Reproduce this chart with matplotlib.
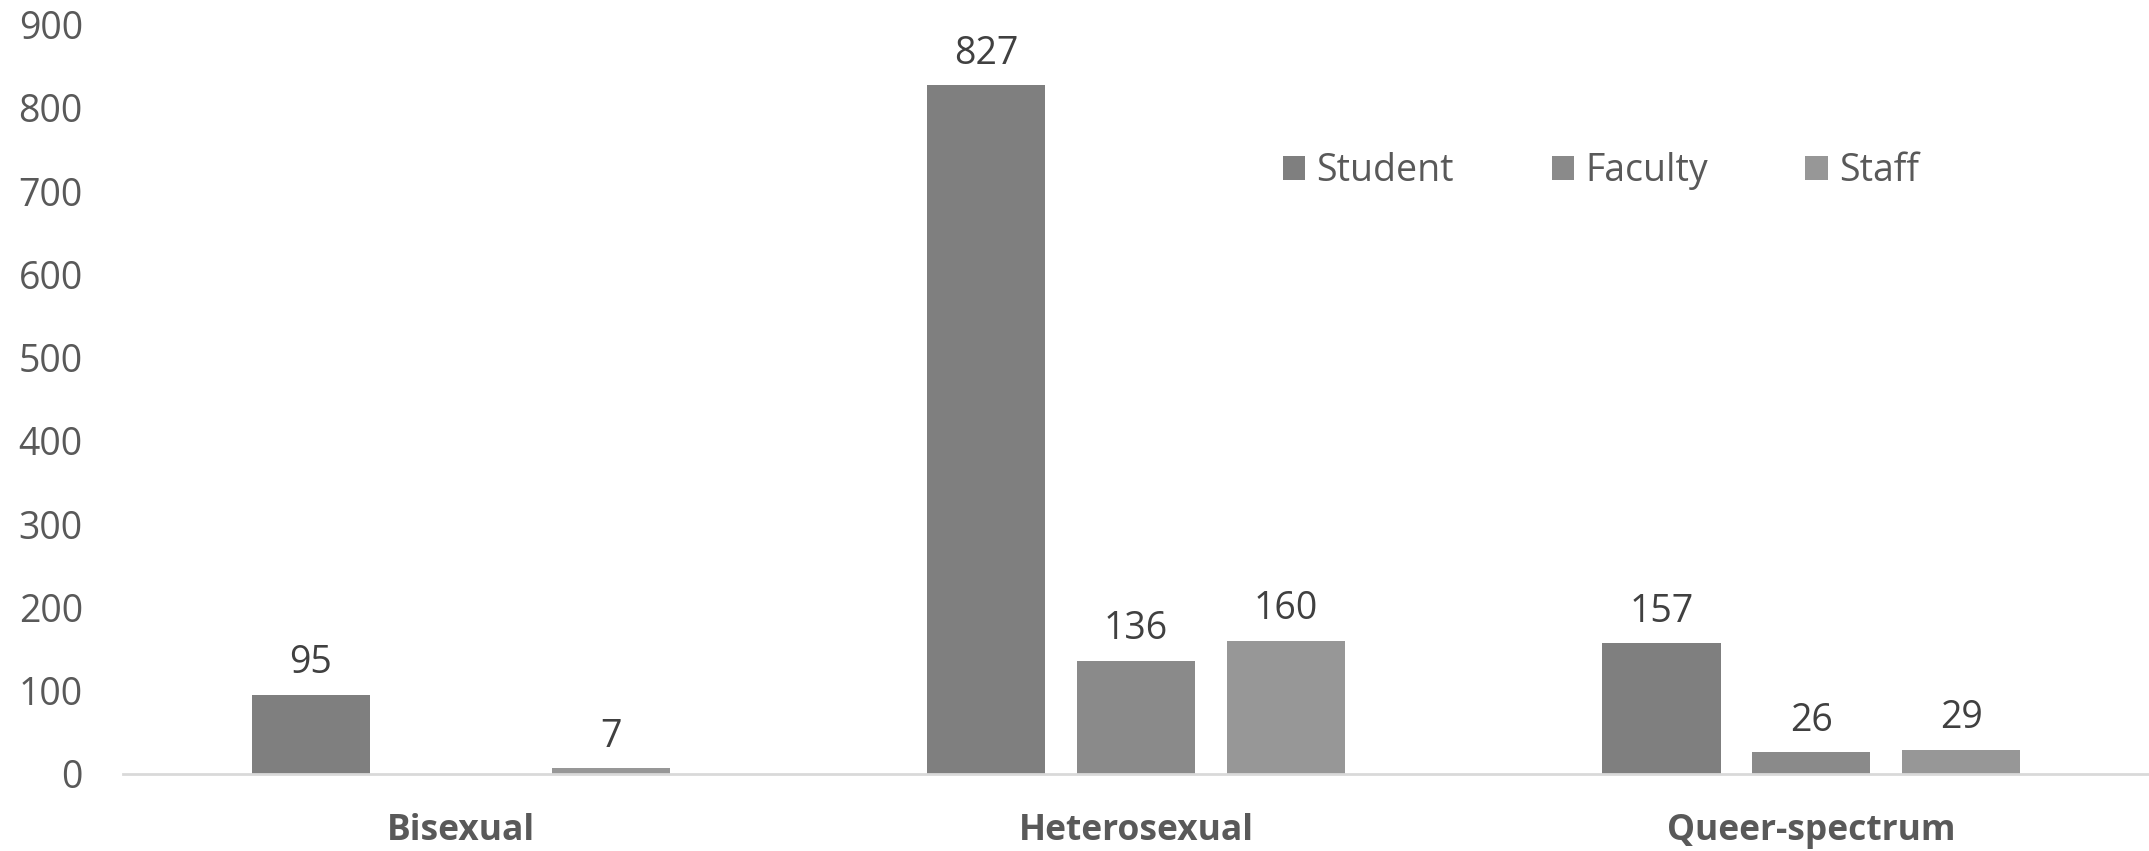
import matplotlib
matplotlib.use("Agg")
import matplotlib.pyplot as plt
import numpy as np

categories = ["Bisexual", "Heterosexual", "Queer-spectrum"]
series_names = ["Student", "Faculty", "Staff"]
student = [95, 827, 157]
faculty = [0, 136, 26]
staff = [7, 160, 29]
yticks = [0, 100, 200, 300, 400, 500, 600, 700, 800, 900]

colors = ["#7f7f7f", "#8a8a8a", "#979797"]

plt.rcParams['font.family'] = ['Open Sans', 'DejaVu Sans']

fig = plt.figure(figsize=(21.49, 8.51), dpi=100)
ax = fig.add_axes([0.0573, 0.0905, 1 - 0.0573, 0.971 - 0.0905])

x = np.arange(len(categories))
step = 0.222
width = 0.175
fs = 27
for i, (vals, name, c) in enumerate(zip([student, faculty, staff], series_names, colors)):
    pos = x + (i - 1) * step
    bars = ax.bar(pos, vals, width, color=c, label=name, zorder=2)
    for b, v in zip(bars, vals):
        if v:
            ax.annotate(str(v), (b.get_x() + b.get_width() / 2, v), xytext=(0, 9),
                        textcoords="offset points", ha="center", va="bottom",
                        fontsize=fs, color="#404040")

ax.set_xlim(-0.5, 2.5)
ax.set_ylim(0, 900)
ax.set_yticks(yticks)
ax.set_xticks(x)
ax.set_xticklabels(categories, fontweight="bold")
ax.tick_params(axis="y", length=0, pad=29, labelsize=fs, labelcolor="#595959")
ax.tick_params(axis="x", length=0, pad=28, labelsize=25.5, labelcolor="#595959")
for s in ["top", "right", "left"]:
    ax.spines[s].set_visible(False)
ax.spines["bottom"].set_color("#d9d9d9")
ax.spines["bottom"].set_linewidth(2)

leg = fig.legend(loc="center", bbox_to_anchor=(0.745, 0.799), ncol=3, frameon=False,
                 fontsize=fs, handlelength=0.6, handleheight=0.6, handletextpad=0.3,
                 columnspacing=2.6, labelcolor="#595959")

fig.savefig("out.png", dpi=100)
